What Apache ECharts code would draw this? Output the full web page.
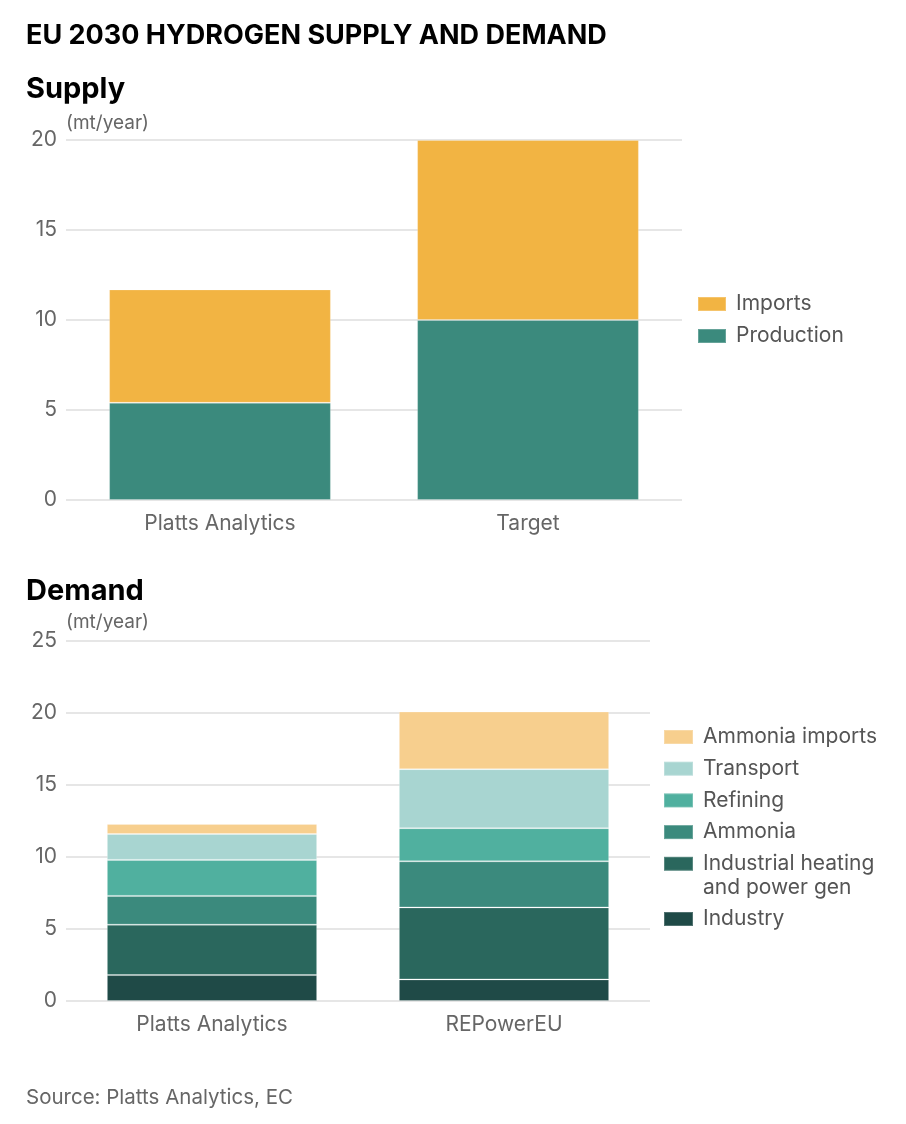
<!DOCTYPE html>
<html>
<head>
<meta charset="utf-8">
<script src="https://cdn.jsdelivr.net/npm/echarts@6/dist/echarts.min.js"></script>
<style>
html,body{margin:0;padding:0;background:#fff;}
#c{width:906px;height:1124px;}
</style>
</head>
<body>
<div id="c"></div>
<script>
// ---- Data ----
const supplyCategories = ['Platts Analytics', 'Target'];
const supplyProduction = [5.4, 10];
const supplyImports = [6.3, 10];
const supplyTicks = [0, 5, 10, 15, 20];

const demandCategories = ['Platts Analytics', 'REPowerEU'];
const demandIndustry = [1.8, 1.5];
const demandIndHeating = [3.5, 5.0];
const demandAmmonia = [2.0, 3.2];
const demandRefining = [2.5, 2.3];
const demandTransport = [1.8, 4.1];
const demandAmmoniaImports = [0.7, 4.0];
const demandTicks = [0, 5, 10, 15, 20, 25];

// ---- Styling ----
const FONT = 'Inter, "Noto Sans", sans-serif';
const GREY = '#666';
const GRID = '#dedede';
const C = {
  imports: '#F2B443',
  production: '#3B8A7D',
  ammoniaImports: '#F7CF8E',
  transport: '#A8D5D1',
  refining: '#50B09F',
  ammonia: '#3B8A7D',
  heating: '#2A675D',
  industry: '#1F4A47'
};
const border = { borderColor: 'rgba(255,255,255,0.22)', borderWidth: 1 };

function yAxis(gridIndex, ticks) {
  return {
    type: 'value', gridIndex: gridIndex,
    min: ticks[0], max: ticks[ticks.length - 1], interval: ticks[1] - ticks[0],
    axisLine: { show: false }, axisTick: { show: false },
    axisLabel: { color: GREY, fontSize: 21, fontFamily: FONT, margin: 9 },
    splitLine: { lineStyle: { color: GRID, width: 1.5 } }
  };
}
function xAxis(gridIndex, cats) {
  return {
    type: 'category', gridIndex: gridIndex, data: cats,
    axisLine: { show: false }, axisTick: { show: false },
    axisLabel: { color: GREY, fontSize: 21, fontFamily: FONT, margin: 13 }
  };
}
function bar(name, data, color, xi, stack) {
  return {
    name: name, type: 'bar', stack: stack, xAxisIndex: xi, yAxisIndex: xi,
    data: data, barWidth: '72%',
    itemStyle: Object.assign({ color: color }, border),
    emphasis: { disabled: true }
  };
}

const chart = echarts.init(document.getElementById('c'), null, { renderer: 'canvas' });
const legendText = { color: '#555', fontSize: 21, fontFamily: FONT, lineHeight: 24, padding: [0, 0, 0, 5] };

chart.setOption({
  animation: false,
  backgroundColor: '#fff',
  title: [
    { text: 'EU 2030 HYDROGEN SUPPLY AND DEMAND', left: 21, top: 17,
      textStyle: { fontSize: 27, fontWeight: 'bold', color: '#000', fontFamily: FONT } },
    { text: 'Supply', left: 21, top: 70,
      textStyle: { fontSize: 29, fontWeight: 'bold', color: '#000', fontFamily: FONT } },
    { text: '(mt/year)', left: 61, top: 109,
      textStyle: { fontSize: 19, fontWeight: 'normal', color: GREY, fontFamily: FONT } },
    { text: 'Demand', left: 21, top: 572,
      textStyle: { fontSize: 29, fontWeight: 'bold', color: '#000', fontFamily: FONT } },
    { text: '(mt/year)', left: 61, top: 608,
      textStyle: { fontSize: 19, fontWeight: 'normal', color: GREY, fontFamily: FONT } },
    { text: 'and power gen', left: 698, top: 872,
      textStyle: { fontSize: 21, fontWeight: 'normal', color: '#555', fontFamily: FONT } },
    { text: 'Source: Platts Analytics, EC', left: 21, top: 1082,
      textStyle: { fontSize: 20.5, fontWeight: 'normal', color: GREY, fontFamily: FONT } }
  ],
  grid: [
    { left: 66, top: 140, width: 616, height: 360 },
    { left: 66, top: 641, width: 584, height: 360 }
  ],
  xAxis: [xAxis(0, supplyCategories), xAxis(1, demandCategories)],
  yAxis: [yAxis(0, supplyTicks), yAxis(1, demandTicks)],
  legend: [
    { orient: 'vertical', left: 692, top: 287, itemWidth: 28, itemHeight: 14, itemGap: 8,
      icon: 'rect', selectedMode: false, textStyle: legendText,
      data: ['Imports', 'Production'] },
    { orient: 'vertical', left: 658, top: 720, itemWidth: 29, itemHeight: 14, itemGap: 7.7,
      icon: 'rect', selectedMode: false, textStyle: legendText,
      formatter: function (n) { return n === 'Industrial heating and power gen' ? 'Industrial heating' : n; },
      data: ['Ammonia imports', 'Transport', 'Refining', 'Ammonia', 'Industrial heating and power gen'] },
    { orient: 'vertical', left: 658, top: 902, itemWidth: 29, itemHeight: 14,
      icon: 'rect', selectedMode: false, textStyle: legendText,
      data: ['Industry'] }
  ],
  series: [
    bar('Production', supplyProduction, C.production, 0, 's'),
    bar('Imports', supplyImports, C.imports, 0, 's'),
    bar('Industry', demandIndustry, C.industry, 1, 'd'),
    bar('Industrial heating and power gen', demandIndHeating, C.heating, 1, 'd'),
    bar('Ammonia', demandAmmonia, C.ammonia, 1, 'd'),
    bar('Refining', demandRefining, C.refining, 1, 'd'),
    bar('Transport', demandTransport, C.transport, 1, 'd'),
    bar('Ammonia imports', demandAmmoniaImports, C.ammoniaImports, 1, 'd')
  ]
});
</script>
</body>
</html>
